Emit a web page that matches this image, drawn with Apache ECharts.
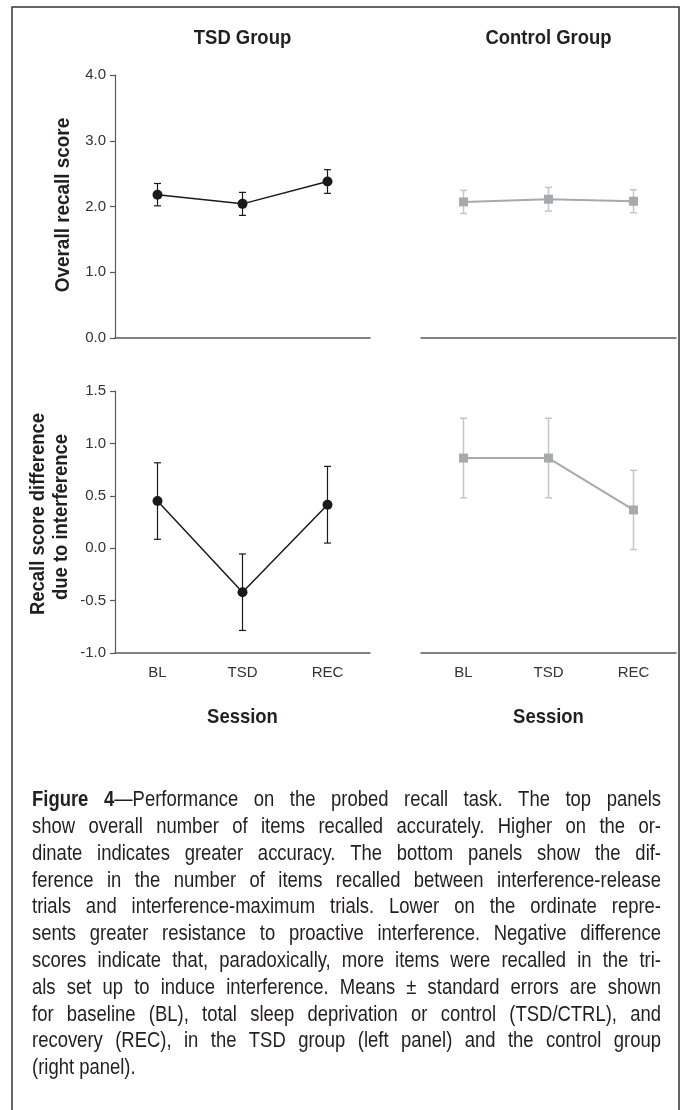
<!DOCTYPE html>
<html>
<head>
<meta charset="utf-8">
<script src="https://cdn.jsdelivr.net/npm/echarts@6/dist/echarts.min.js"></script>
<style>
  html, body { margin: 0; padding: 0; background: #fff; }
  #main { width: 681px; height: 1110px; }
</style>
</head>
<body>
<div id="main"></div>
<script>
// sessions on the x axis
var categories = ['BL', 'TSD', 'REC'];

// top panels: overall recall score (mean, standard error)
var tsdRecallMean = [2.18, 2.04, 2.38];
var tsdRecallSE = [0.17, 0.175, 0.18];
var ctrlRecallMean = [2.07, 2.11, 2.08];
var ctrlRecallSE = [0.175, 0.18, 0.175];

// bottom panels: recall score difference due to interference
var tsdDiffMean = [0.45, -0.42, 0.415];
var tsdDiffSE = [0.365, 0.365, 0.366];
var ctrlDiffMean = [0.86, 0.86, 0.365];
var ctrlDiffSE = [0.38, 0.38, 0.378];

// y axis ranges [min, max, step]
var recallTicks = [0, 4, 1];
var diffTicks = [-1, 1.5, 0.5];

var captionLines = [
  'Figure 4\u2014Performance on the probed recall task. The top panels',
  'show overall number of items recalled accurately. Higher on the or-',
  'dinate indicates greater accuracy. The bottom panels show the dif-',
  'ference in the number of items recalled between interference-release',
  'trials and interference-maximum trials. Lower on the ordinate repre-',
  'sents greater resistance to proactive interference. Negative difference',
  'scores indicate that, paradoxically, more items were recalled in the tri-',
  'als set up to induce interference. Means \u00b1 standard errors are shown',
  'for baseline (BL), total sleep deprivation or control (TSD/CTRL), and',
  'recovery (REC), in the TSD group (left panel) and the control group',
  '(right panel).'
];

//narrow font check
var measureCtx = document.createElement('canvas').getContext('2d');
function hasFont(name) {
  var s = 'abcdefghijklm TSD Group 0123';
  measureCtx.font = '20px monospace';
  var a = measureCtx.measureText(s).width;
  measureCtx.font = '20px "' + name + '", monospace';
  var b = measureCtx.measureText(s).width;
  return Math.abs(a - b) > 0.5;
}
var NARROW = hasFont('Liberation Sans Narrow');
var condFamily = NARROW ? 'Liberation Sans Narrow' : 'Liberation Sans';
var condScale = NARROW ? 1 : 0.82;
var headScale = NARROW ? 1 : 0.9;   // headings are a little less condensed
var INK = '#231f20';

function textWidth(s, size, bold) {
  measureCtx.font = (bold ? 'bold ' : '') + size + 'px "' + condFamily + '"';
  return measureCtx.measureText(s).width * condScale;
}

function txt(x, y, s, size, bold, align, rot, sx) {
  return {
    type: 'text', x: x, y: y, scaleX: sx || condScale, rotation: rot || 0, silent: true,
    style: {
      text: s, fontSize: size, fontWeight: bold ? 'bold' : 'normal', fontFamily: condFamily,
      fill: INK, align: align || 'center', textAlign: align || 'center',
      verticalAlign: 'middle', textVerticalAlign: 'middle'
    }
  };
}

// grids: left panels and right panels
var panelW = 255;
var leftX = 115, rightX = 421;
var topY = 75, topH = 263;
var botY = 391, botH = 262;

var grids = [
  { left: leftX, top: topY, width: panelW, height: topH },
  { left: rightX, top: topY, width: panelW, height: topH },
  { left: leftX, top: botY, width: panelW, height: botH },
  { left: rightX, top: botY, width: panelW, height: botH }
];

var axisColor = '#58595b';

function xAxis(i, showLabel) {
  return {
    type: 'category', gridIndex: i, data: categories, boundaryGap: true,
    axisLine: { show: true, onZero: false, lineStyle: { color: axisColor, width: 1.5 } },
    axisTick: { show: false },
    axisLabel: {
      show: showLabel, margin: 12, color: '#333', fontSize: 15,
      fontFamily: NARROW ? condFamily : 'Liberation Sans'
    },
    splitLine: { show: false }
  };
}

function yAxis(i, ticks, showIt) {
  return {
    type: 'value', gridIndex: i, min: ticks[0], max: ticks[1], interval: ticks[2],
    axisLine: { show: showIt, onZero: false, lineStyle: { color: axisColor, width: 1.2 } },
    axisTick: { show: showIt, length: 5, lineStyle: { color: axisColor, width: 1.2 } },
    axisLabel: {
      show: showIt, margin: 9, color: '#333', fontSize: 15, fontFamily: 'Liberation Sans',
      formatter: function (v) { return v.toFixed(1); }
    },
    splitLine: { show: false }
  };
}

function errorData(mean, se) {
  return mean.map(function (m, i) { return [i, m - se[i], m + se[i]]; });
}

function errorSeries(i, mean, se, color, width) {
  return {
    type: 'custom', xAxisIndex: i, yAxisIndex: i, z: 2, silent: true,
    data: errorData(mean, se),
    encode: { x: 0, y: [1, 2] },
    renderItem: function (params, api) {
      var lo = api.coord([api.value(0), api.value(1)]);
      var hi = api.coord([api.value(0), api.value(2)]);
      var cap = 3.5;
      var st = { stroke: color, lineWidth: width };
      return {
        type: 'group',
        children: [
          { type: 'line', shape: { x1: hi[0], y1: hi[1], x2: lo[0], y2: lo[1] }, style: st },
          { type: 'line', shape: { x1: hi[0] - cap, y1: hi[1], x2: hi[0] + cap, y2: hi[1] }, style: st },
          { type: 'line', shape: { x1: lo[0] - cap, y1: lo[1], x2: lo[0] + cap, y2: lo[1] }, style: st }
        ]
      };
    }
  };
}

function lineSeries(i, mean, tsd) {
  return {
    type: 'line', xAxisIndex: i, yAxisIndex: i, z: 3, data: mean,
    symbol: tsd ? 'circle' : 'rect', symbolSize: tsd ? 10 : 9,
    itemStyle: { color: tsd ? '#1a1a1a' : '#a7a9ac' },
    lineStyle: { color: tsd ? '#1a1a1a' : '#a7a9ac', width: tsd ? 1.5 : 2 }
  };
}

// caption, justified line by line
function captionTokens(line, li) {
  return line.split(' ').map(function (w, wi) {
    if (li === 0 && wi === 0) return [[w, true]];
    if (li === 0 && wi === 1) return [['4', true], [w.slice(1), false]];
    return [[w, false]];
  });
}

function captionGraphics() {
  var out = [];
  var left = 32, right = 661, y0 = 800, lh = 26.8;
  // biggest size where the widest line still fits with plain spaces
  var size = 22.5;
  captionLines.slice(0, -1).forEach(function (line, li) {
    var toks = captionTokens(line, li);
    var w = toks.reduce(function (s, t) {
      return s + t.reduce(function (a, p) { return a + textWidth(p[0], 10, p[1]); }, 0);
    }, 0) + (toks.length - 1) * textWidth(' ', 10, false);
    size = Math.min(size, 10 * (right - left) / w);
  });
  size = Math.floor(size * 4) / 4;
  captionLines.forEach(function (line, li) {
    var tokens = captionTokens(line, li);
    var widths = tokens.map(function (t) {
      return t.reduce(function (s, p) { return s + textWidth(p[0], size, p[1]); }, 0);
    });
    var total = widths.reduce(function (a, b) { return a + b; }, 0);
    var last = li === captionLines.length - 1;
    var gap = last ? textWidth(' ', size, false) : (right - left - total) / (tokens.length - 1);
    var x = left, y = y0 + li * lh;
    tokens.forEach(function (t, ti) {
      var px = x;
      t.forEach(function (p) {
        out.push(txt(px, y, p[0], size, p[1], 'left'));
        px += textWidth(p[0], size, p[1]);
      });
      x += widths[ti] + gap;
    });
  });
  return out;
}

var graphics = [
  {
    type: 'rect', silent: true, shape: { x: 12, y: 7, width: 667, height: 1130 },
    style: { fill: 'none', stroke: '#333', lineWidth: 1.5 }
  },
  txt(leftX + panelW / 2, 38, 'TSD Group', 20.5, true, 'center', 0, headScale),
  txt(rightX + panelW / 2, 38, 'Control Group', 20.5, true, 'center', 0, headScale),
  txt(63, 205, 'Overall recall score', 21, true, 'center', Math.PI / 2, headScale),
  txt(38, 514, 'Recall score difference', 20.5, true, 'center', Math.PI / 2, headScale),
  txt(61, 517, 'due to interference', 20.5, true, 'center', Math.PI / 2, headScale),
  txt(leftX + panelW / 2, 717, 'Session', 20.5, true, 'center', 0, headScale),
  txt(rightX + panelW / 2, 717, 'Session', 20.5, true, 'center', 0, headScale)
].concat(captionGraphics());

var chart = echarts.init(document.getElementById('main'), null, { renderer: 'canvas' });
chart.setOption({
  backgroundColor: '#fff',
  animation: false,
  grid: grids,
  xAxis: [xAxis(0, false), xAxis(1, false), xAxis(2, true), xAxis(3, true)],
  yAxis: [yAxis(0, recallTicks, true), yAxis(1, recallTicks, false),
          yAxis(2, diffTicks, true), yAxis(3, diffTicks, false)],
  series: [
    errorSeries(0, tsdRecallMean, tsdRecallSE, '#1a1a1a', 1.2),
    lineSeries(0, tsdRecallMean, true),
    errorSeries(1, ctrlRecallMean, ctrlRecallSE, '#c4c6c8', 1.5),
    lineSeries(1, ctrlRecallMean, false),
    errorSeries(2, tsdDiffMean, tsdDiffSE, '#1a1a1a', 1.2),
    lineSeries(2, tsdDiffMean, true),
    errorSeries(3, ctrlDiffMean, ctrlDiffSE, '#c4c6c8', 1.5),
    lineSeries(3, ctrlDiffMean, false)
  ],
  graphic: graphics
});
</script>
</body>
</html>
